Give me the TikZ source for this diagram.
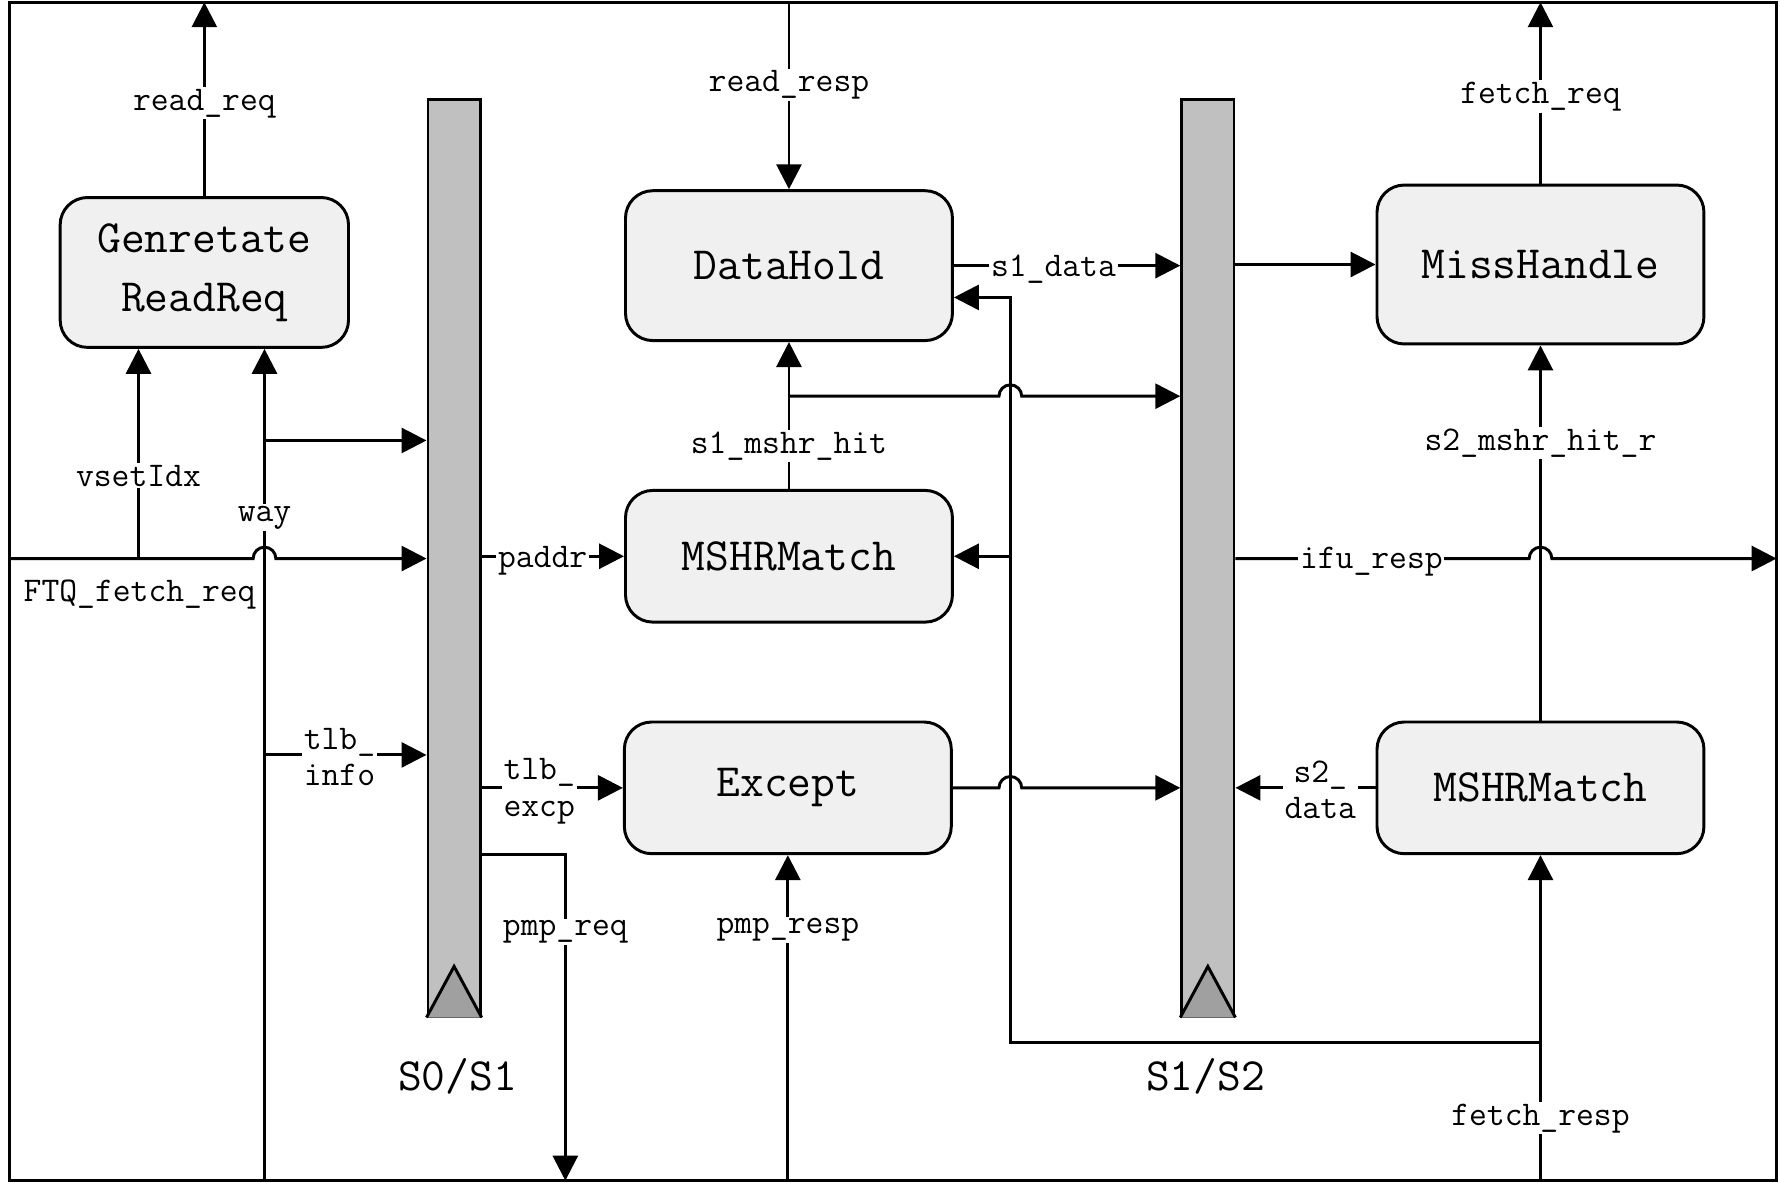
\documentclass[tikz,border=0pt]{standalone}
\usepackage{fontspec}
\usetikzlibrary{arrows.meta,calc}
\definecolor{boxfill}{HTML}{F0F0F0}
\definecolor{barfill}{HTML}{C0C0C0}
\definecolor{trifill}{HTML}{A0A0A0}
\newcommand\bxfont{\ttfamily\fontsize{40.7}{52}\selectfont}
\newcommand\lbfont{\ttfamily\fontsize{30.5}{32}\selectfont}
\begin{document}
\begin{tikzpicture}[x=1pt,y=-1pt,
  box/.style={draw, rounded corners=24pt, fill=boxfill, line width=2.6pt, font=\bxfont, align=center, inner sep=0pt},
  bar/.style={draw, fill=barfill, line width=2.6pt, minimum width=46pt, minimum height=807pt, inner sep=0pt},
  con/.style={line width=2.6pt},
  arr/.style={con, -{Triangle[length=22pt,width=22pt]}},
  lbl/.style={fill=white, font=\lbfont, inner sep=1.5pt, align=center, yshift=-3pt},
  stage/.style={font=\bxfont}]
\useasboundingbox (0,0) rectangle (1568,1042);
% frame
\node[draw, line width=2.6pt, minimum width=1557pt, minimum height=1038pt, inner sep=0pt, outer sep=0pt, anchor=north west] (frame) at (8,2) {};
% boxes
\node[box, minimum width=254pt, minimum height=132pt] (gen) at (180,240) {Genretate\\ReadReq};
\node[box, minimum width=288pt, minimum height=132pt] (dh) at (695,234) {DataHold};
\node[box, minimum width=288pt, minimum height=116pt] (mm1) at (695,490) {MSHRMatch};
\node[box, minimum width=288pt, minimum height=116pt] (exc) at (694,694) {Except};
\node[box, minimum width=288pt, minimum height=140pt] (mh) at (1357,233) {MissHandle};
\node[box, minimum width=288pt, minimum height=116pt] (mm2) at (1357,694) {MSHRMatch};
% pipeline registers
\node[bar] (s01) at (400,491.5) {};
\node[bar] (s12) at (1064,491.5) {};
\draw[line width=2.6pt, fill=trifill] (s01.south west) -- ([yshift=45pt]s01.south) -- (s01.south east);
\draw[line width=2.6pt, fill=trifill] (s12.south west) -- ([yshift=45pt]s12.south) -- (s12.south east);
\node[stage] (l01) at (403,948) {S0/S1};
\node[stage] (l12) at (1062,948) {S1/S2};
% coordinates
\coordinate (wayb) at (233,1040);
\coordinate (wayj) at (233,388);
\coordinate (ftqs) at (8,492);
\coordinate (vsj) at (122,492);
\coordinate (tlbj) at (233,665);
\coordinate (pmpo) at (498,1040);
\coordinate (fbj) at (1357,918);
\coordinate (fbc) at (890,918);
\coordinate (hitj) at (695,349);
% left part
\draw[arr] (gen.north) -- (gen.north |- frame.north);
\node[lbl] at (180,88) {read\_req};
\draw[arr] (vsj) -- (vsj |- gen.south);
\node[lbl] at (122,416) {vsetIdx};
\draw[arr] (wayb) -- (wayb |- gen.south);
\node[lbl] at (233,453) {way};
\draw[arr] (wayj) -- (s01.west |- wayj);
\draw[arr] (ftqs) -- (223,492) arc[start angle=180, end angle=0, radius=10pt] -- (s01.west |- ftqs);
\node[font=\lbfont, inner sep=0pt] at (123,524) {FTQ\_fetch\_req};
\draw[arr] (tlbj) -- (s01.west |- tlbj);
\node[lbl] at (299,664) {tlb\_\\info};
\draw[arr] (s01.east |- mm1.west) -- (mm1.west);
\node[lbl] at (478,491) {paddr};
\draw[arr] (s01.east |- exc.west) -- (exc.west);
\node[lbl] at (475,694) {tlb\_\\excp};
\draw[arr] (s01.east |- 0,753) -| (pmpo);
\node[lbl] at (498,818) {pmp\_req};
% middle part
\draw[arr] (dh.north |- frame.north) -- (dh.north);
\node[lbl] at (695,72) {read\_resp};
\draw[arr] (dh.east) -- (s12.west |- dh.east);
\node[lbl] at (928,234) {s1\_data};
\draw[arr] (mm1.north) -- (dh.south);
\node[lbl] at (695,390) {s1\_mshr\_hit};
\draw[arr] (hitj) -- (880,349) arc[start angle=180, end angle=0, radius=10pt] -- (s12.west |- hitj);
\draw[arr] (exc.east) -- (880,694) arc[start angle=180, end angle=0, radius=10pt] -- (s12.west |- exc.east);
\draw[arr] (mm2.south |- fbj) -- (fbc) -- (890,262) -- (dh.east |- 0,262);
\draw[arr] (890,490) -- (mm1.east);
\draw[arr] (exc.south |- frame.south) -- (exc.south);
\node[lbl] at (694,816) {pmp\_resp};
% right part
\draw[arr] (s12.east |- mh.west) -- (mh.west);
\draw[arr] (mh.north) -- (mh.north |- frame.north);
\node[lbl] at (1357,82) {fetch\_req};
\draw[arr] (mm2.north) -- (mh.south);
\node[lbl] at (1357,387) {s2\_mshr\_hit\_r};
\draw[arr] (s12.east |- 0,492) -- (1347,492) arc[start angle=180, end angle=0, radius=10pt] -- (frame.east |- 0,492);
\node[lbl] at (1208,492) {ifu\_resp};
\draw[arr] (mm2.west) -- (s12.east |- mm2.west);
\node[lbl] at (1163,693) {s2\_\\data};
\draw[arr] (mm2.south |- frame.south) -- (mm2.south);
\node[lbl] at (1357,982) {fetch\_resp};
\end{tikzpicture}
\end{document}
